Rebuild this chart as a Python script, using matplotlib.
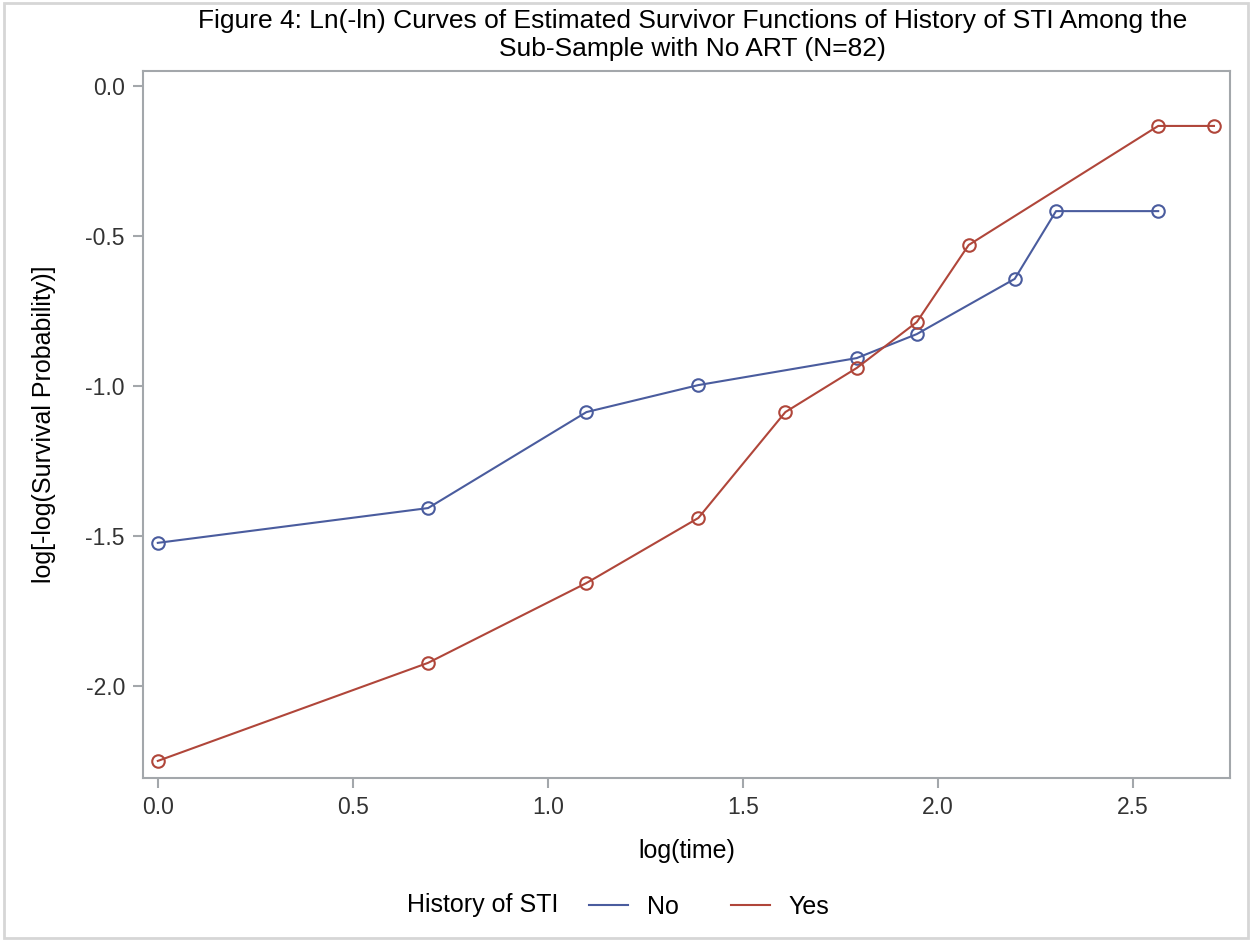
import matplotlib.pyplot as plt
from matplotlib.patches import Rectangle
from matplotlib.lines import Line2D

plt.rcParams['font.family'] = ['Liberation Sans', 'DejaVu Sans']

# log(time) and log[-log(S)]
no_x = [0.0, 0.693, 1.099, 1.386, 1.792, 1.946, 2.197, 2.303, 2.565]
no_y = [-1.523, -1.407, -1.087, -0.997, -0.907, -0.827, -0.643, -0.417, -0.417]
yes_x = [0.0, 0.693, 1.099, 1.386, 1.609, 1.792, 1.946, 2.079, 2.565, 2.708]
yes_y = [-2.25, -1.923, -1.657, -1.44, -1.087, -0.94, -0.787, -0.53, -0.133, -0.133]

blue = '#4a5c9e'
red = '#b0463a'
frame = '#a3a7ab'

fig = plt.figure(figsize=(12.52, 9.41), dpi=100)
ax = fig.add_axes([0.1142, 0.1732, 0.8682, 0.7513])

ax.plot(no_x, no_y, color=blue, lw=1.5, marker='o', ms=9, mfc='none', mec=blue, mew=1.5)
ax.plot(yes_x, yes_y, color=red, lw=1.5, marker='o', ms=9, mfc='none', mec=red, mew=1.5)

ax.set_xlim(-0.038, 2.749)
ax.set_ylim(-2.307, 0.05)
ax.set_xticks([0.0, 0.5, 1.0, 1.5, 2.0, 2.5])
ax.set_yticks([0.0, -0.5, -1.0, -1.5, -2.0])
ax.set_xticklabels(['0.0', '0.5', '1.0', '1.5', '2.0', '2.5'])
ax.set_yticklabels(['0.0', '-0.5', '-1.0', '-1.5', '-2.0'])
ax.tick_params(direction='out', length=7, width=1.5, color=frame,
               labelsize=16.5, labelcolor='#333333', pad=6)
for s in ax.spines.values():
    s.set_color(frame)
    s.set_linewidth(1.5)

ax.set_xlabel('log(time)', fontsize=18, labelpad=14)
ax.set_ylabel('log[-log(Survival Probability)]', fontsize=18, labelpad=21)

fig.text(0.553, 0.990, 'Figure 4: Ln(-ln) Curves of Estimated Survivor Functions of History of STI Among the\n'
         'Sub-Sample with No ART (N=82)', ha='center', va='top', fontsize=19, linespacing=1.17)

# legend at the bottom
fig.text(0.325, 0.038, 'History of STI', fontsize=18, va='center')
handles = [Line2D([], [], color=blue, lw=1.5), Line2D([], [], color=red, lw=1.5)]
fig.legend(handles, ['No', 'Yes'], ncol=2, loc='center left', bbox_to_anchor=(0.4704, 0.036),
           frameon=False, fontsize=18, handlelength=1.55, columnspacing=2.1,
           handletextpad=0.76, borderpad=0, borderaxespad=0)

fig.patches.append(Rectangle((0.003, 0.003), 0.994, 0.994, transform=fig.transFigure,
                             fill=False, edgecolor='#d6d6d6', lw=2))

fig.savefig('out.png', dpi=100)
